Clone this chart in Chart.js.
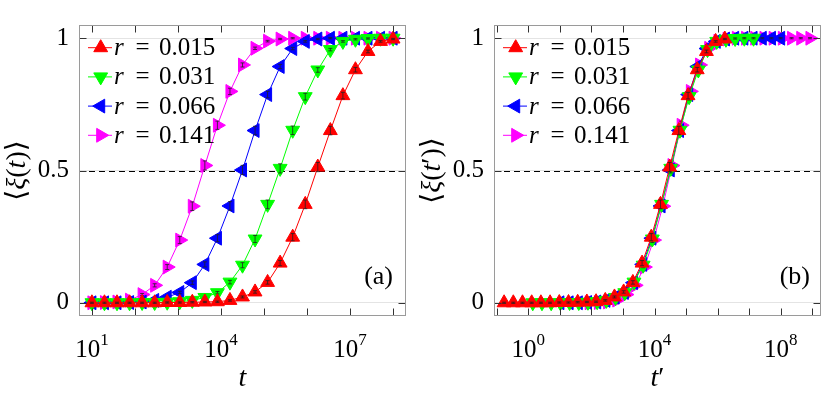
<!DOCTYPE html>
<html>
<head>
<meta charset="utf-8">
<script src="https://cdn.jsdelivr.net/npm/chart.js@4.4.1/dist/chart.umd.min.js"></script>
<style>
  body { margin: 0; background: #fff; }
  .row { display: flex; width: 830px; height: 396px; }
  canvas { display: block; }
</style>
</head>
<body>
<div class="row">
  <canvas id="chartA" width="415" height="396"></canvas>
  <canvas id="chartB" width="415" height="396"></canvas>
</div>
<script>
// sampling times (log spaced, 10 .. 1e8)
const tValues = [10, 19.57, 38.31, 74.99, 146.8, 287.3, 562.3, 1100.7, 2154.4, 4217, 8254,
  16156, 31623, 61897, 121153, 237137, 464159, 908518, 1778279, 3480701, 6812921,
  13335214, 26101572, 51089698, 100000000];

const rLabels = ["0.015", "0.031", "0.066", "0.141"];

// <xi(t)> for each r
const xiR015 = [0, 0, 0, 0, 0, 0, 0.001, 0.001, 0.002, 0.003, 0.004, 0.009, 0.022, 0.041, 0.077,
  0.150, 0.248, 0.372, 0.513, 0.651, 0.783, 0.881, 0.950, 0.988, 0.997];
const xiR031 = [0, 0, 0, 0, 0.001, 0.001, 0.002, 0.004, 0.009, 0.020, 0.038, 0.078, 0.142,
  0.241, 0.372, 0.508, 0.652, 0.779, 0.880, 0.957, 0.988, 0.996, 0.999, 1, 1];
const xiR066 = [0, 0, 0, 0.001, 0.003, 0.009, 0.021, 0.039, 0.076, 0.145, 0.244, 0.366, 0.502,
  0.651, 0.787, 0.893, 0.961, 0.988, 0.997, 1, 1, 1, 1, 1, 1];
const xiR141 = [0, 0.001, 0.003, 0.010, 0.031, 0.066, 0.135, 0.237, 0.365, 0.519, 0.671, 0.799,
  0.899, 0.962, 0.989, 0.997, 1, 1, 1, 1, 1, 1, 1, 1, 1];

// rescaling t -> t' used in panel (b)
const tScale = [0.017, 0.138, 1.0, 8.5];

const yTicks = [0, 0.5, 1];
const xTickExpA = [1, 4, 7];
const xTickExpB = [0, 4, 8];

const serif = "'Liberation Serif', 'Times New Roman', Tinos, 'DejaVu Serif', 'Noto Serif', serif";
const colors = ["#ff0000", "#00ff00", "#0000ff", "#ff00ff"];
const rotations = [0, 180, 270, 90];
const seriesValues = [xiR015, xiR031, xiR066, xiR141];

function makeDatasets(scaled) {
  return seriesValues.map((vals, i) => ({
    label: "r = " + rLabels[i],
    data: vals.map((v, j) => ({ x: tValues[j] * (scaled ? tScale[i] : 1), y: v })),
    showLine: true,
    borderColor: colors[i],
    borderWidth: 1,
    backgroundColor: colors[i],
    pointStyle: "triangle",
    pointRotation: rotations[i],
    pointRadius: 8,
    pointBorderWidth: 1,
    pointBackgroundColor: colors[i],
    pointBorderColor: colors[i]
  }));
}

function triangle(ctx, x, y, r, rot) {
  let rad = rot * Math.PI / 180;
  ctx.beginPath();
  ctx.moveTo(x + Math.sin(rad) * r, y - Math.cos(rad) * r);
  rad += 2 * Math.PI / 3;
  ctx.lineTo(x + Math.sin(rad) * r, y - Math.cos(rad) * r);
  rad += 2 * Math.PI / 3;
  ctx.lineTo(x + Math.sin(rad) * r, y - Math.cos(rad) * r);
  ctx.closePath();
  ctx.fill();
  ctx.stroke();
}

function drawParts(ctx, parts, size, x, y) {
  parts.forEach(([s, it]) => {
    ctx.font = (it ? "italic " : "") + size + "px " + serif;
    ctx.fillText(s, x, y);
    x += ctx.measureText(s).width;
  });
}

function partsWidth(ctx, parts, size) {
  let w = 0;
  parts.forEach(([s, it]) => {
    ctx.font = (it ? "italic " : "") + size + "px " + serif;
    w += ctx.measureText(s).width;
  });
  return w;
}

function panelPlugin(opts) {
  return {
    id: "panel",
    beforeDatasetsDraw(chart) {
      const { ctx, chartArea: a } = chart;
      const yp = chart.scales.y.getPixelForValue(0.5);
      ctx.save();
      ctx.strokeStyle = "#000";
      ctx.lineWidth = 1;
      ctx.setLineDash([6, 4]);
      ctx.beginPath();
      ctx.moveTo(a.left, Math.round(yp) + 0.5);
      ctx.lineTo(a.right, Math.round(yp) + 0.5);
      ctx.stroke();
      ctx.restore();
    },
    afterDatasetDraw(chart, args) {
      // small error bars inside the markers
      const ctx = chart.ctx;
      const ds = chart.data.datasets[args.index];
      ctx.save();
      ctx.strokeStyle = "#222";
      ctx.lineWidth = 0.8;
      args.meta.data.forEach((pt, j) => {
        const v = ds.data[j].y;
        const h = 0.6 + 16 * v * (1 - v);
        ctx.beginPath();
        ctx.moveTo(pt.x, pt.y - h); ctx.lineTo(pt.x, pt.y + h);
        ctx.moveTo(pt.x - 2, pt.y - h); ctx.lineTo(pt.x + 2, pt.y - h);
        ctx.moveTo(pt.x - 2, pt.y + h); ctx.lineTo(pt.x + 2, pt.y + h);
        ctx.stroke();
      });
      ctx.restore();
    },
    afterDraw(chart) {
      const { ctx, chartArea: a, scales: { x, y } } = chart;
      ctx.save();
      const L = Math.round(a.left) + 0.5, R = Math.round(a.right) - 0.5;
      const T = Math.round(a.top) + 0.5, B = Math.round(a.bottom) - 0.5;

      // ticks (inward)
      ctx.strokeStyle = "#333";
      ctx.lineWidth = 1;
      ctx.beginPath();
      const n0 = Math.ceil(Math.log10(x.min)), n1 = Math.floor(Math.log10(x.max));
      for (let n = n0; n <= n1; n++) {
        const px = Math.round(x.getPixelForValue(Math.pow(10, n))) + 0.5;
        ctx.moveTo(px, B); ctx.lineTo(px, B - 7);
        ctx.moveTo(px, T); ctx.lineTo(px, T + 7);
      }
      yTicks.forEach(v => {
        const py = Math.round(y.getPixelForValue(v)) + 0.5;
        ctx.moveTo(L, py); ctx.lineTo(L + 7, py);
        ctx.moveTo(R, py); ctx.lineTo(R - 7, py);
      });
      ctx.stroke();

      // box
      ctx.strokeStyle = "#9a9a9a";
      ctx.strokeRect(L, T, R - L, B - T);

      // x tick labels 10^n
      ctx.fillStyle = "#000";
      ctx.textBaseline = "alphabetic";
      ctx.textAlign = "left";
      opts.xTickExp.forEach(e => {
        const px = x.getPixelForValue(Math.pow(10, e));
        ctx.font = "25px " + serif;
        const w1 = ctx.measureText("10").width;
        ctx.font = "17px " + serif;
        const w2 = ctx.measureText(String(e)).width;
        const x0 = px - (w1 + w2) / 2;
        ctx.font = "25px " + serif;
        ctx.fillText("10", x0, 357);
        ctx.font = "17px " + serif;
        ctx.fillText(String(e), x0 + w1, 345);
      });

      // x title
      const xw = partsWidth(ctx, opts.xTitle, 28);
      drawParts(ctx, opts.xTitle, 28, (a.left + a.right) / 2 - xw / 2, 386);

      // y title (rotated)
      const yw = partsWidth(ctx, opts.yTitle, 28);
      ctx.save();
      ctx.translate(25, (a.top + a.bottom) / 2);
      ctx.rotate(-Math.PI / 2);
      drawParts(ctx, opts.yTitle, 28, -yw / 2, 0);
      ctx.restore();

      // legend
      rLabels.forEach((lab, i) => {
        const cy = a.top + 22.7 + i * 29.2;
        ctx.strokeStyle = colors[i];
        ctx.fillStyle = colors[i];
        ctx.lineWidth = 1;
        ctx.beginPath();
        ctx.moveTo(a.left + 9, cy); ctx.lineTo(a.left + 33, cy);
        ctx.stroke();
        triangle(ctx, a.left + 21.7, cy, 8, rotations[i]);
        ctx.fillStyle = "#000";
        ctx.font = "italic 25px " + serif;
        ctx.fillText("r", a.left + 35, cy + 7.5);
        ctx.font = "25px " + serif;
        ctx.textAlign = "center";
        ctx.fillText("=", a.left + 63.5, cy + 7.5);
        ctx.textAlign = "left";
        ctx.fillText(lab, a.left + 80, cy + 7.5);
      });

      // panel tag
      ctx.font = "26px " + serif;
      ctx.textAlign = "right";
      ctx.fillText(opts.tag, a.right - opts.tagInset, a.bottom - 32);
      ctx.restore();
    }
  };
}

function makeChart(id, scaled, opts) {
  return new Chart(document.getElementById(id), {
    type: "scatter",
    data: { datasets: makeDatasets(scaled) },
    options: {
      responsive: false,
      animation: false,
      devicePixelRatio: 1,
      layout: { padding: { top: 7, right: opts.padRight, bottom: 0, left: 0 } },
      plugins: { legend: { display: false }, tooltip: { enabled: false } },
      scales: {
        x: {
          type: "logarithmic",
          min: opts.xMin,
          max: opts.xMax,
          grid: { display: false },
          border: { display: false },
          ticks: { display: false },
          afterFit: s => { s.height = 80; }
        },
        y: {
          min: -0.05,
          max: 1.05,
          grid: { color: "#e4e4e4", drawTicks: false },
          border: { display: false },
          ticks: {
            font: { family: serif, size: 25 },
            color: "#000",
            padding: 10,
            callback: v => String(v)
          },
          afterBuildTicks: s => { s.ticks = yTicks.map(v => ({ value: v })); },
          afterFit: s => { s.width = 79; }
        }
      }
    },
    plugins: [panelPlugin(opts)]
  });
}

makeChart("chartA", false, {
  xMin: 5.01, xMax: 1.995e8, padRight: 5, xTickExp: xTickExpA, tag: "(a)", tagInset: 13,
  xTitle: [["t", true]],
  yTitle: [["\u27E8", false], ["\u03BE", true], ["(", false], ["t", true], [")", false], ["\u27E9", false]]
});

makeChart("chartB", true, {
  xMin: 0.0813, xMax: 1.905e9, padRight: 4, xTickExp: xTickExpB, tag: "(b)", tagInset: 11,
  xTitle: [["t", true], ["\u2032", false]],
  yTitle: [["\u27E8", false], ["\u03BE", true], ["(", false], ["t", true], ["\u2032", false], [")", false], ["\u27E9", false]]
});
</script>
</body>
</html>
